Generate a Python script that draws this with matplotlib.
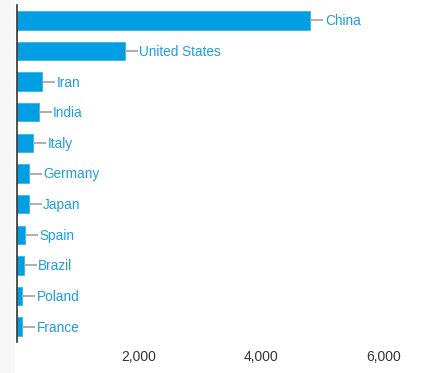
import matplotlib
matplotlib.use("Agg")
import matplotlib.pyplot as plt
from matplotlib.patches import Rectangle

countries = ["China", "United States", "Iran", "India", "Italy", "Germany",
             "Japan", "Spain", "Brazil", "Poland", "France"]
values = [4800, 1770, 420, 360, 275, 200, 200, 140, 118, 95, 95]
xticks = [2000, 4000, 6000]
xticklabels = ["2,000", "4,000", "6,000"]

W, H = 426, 373
fig = plt.figure(figsize=(W / 100, H / 100), dpi=100)
fig.patches.append(Rectangle((0, 0), 15 / W, 1, transform=fig.transFigure,
                             facecolor="#f7f7f7", edgecolor="none", zorder=0))

ax = fig.add_axes([16.5 / W, (H - 342) / H, (412 - 16.5) / W, (342 - 5) / H])
ax.set_facecolor("none")
pos = list(range(len(countries)))
ax.barh(pos, values, height=0.6, color="#009fe3", edgecolor="#3bb3ea", linewidth=0.6)

xmax = 6460
ax.set_xlim(0, xmax)
ax.set_ylim(len(countries) - 0.5, -0.5)
px = xmax / (412 - 16.5)
for p, v, c in zip(pos, values, countries):
    ax.plot([v, v + 13 * px], [p, p], color="#a8a8a8", lw=1.3, solid_capstyle="butt")
    ax.text(v + 14.5 * px, p + 0.03, c, va="center", ha="left", color="#1f9de0",
            fontsize=9.8, family="Liberation Sans")

ax.set_xticks(xticks)
ax.set_xticklabels(xticklabels, color="#333333", fontsize=10, family="Liberation Sans")
ax.tick_params(axis="x", length=0, pad=6)
ax.set_yticks([])
for s in ["top", "right", "bottom"]:
    ax.spines[s].set_visible(False)
ax.spines["left"].set_color("#333333")
ax.spines["left"].set_linewidth(1.2)

fig.savefig("out.png", dpi=100)
